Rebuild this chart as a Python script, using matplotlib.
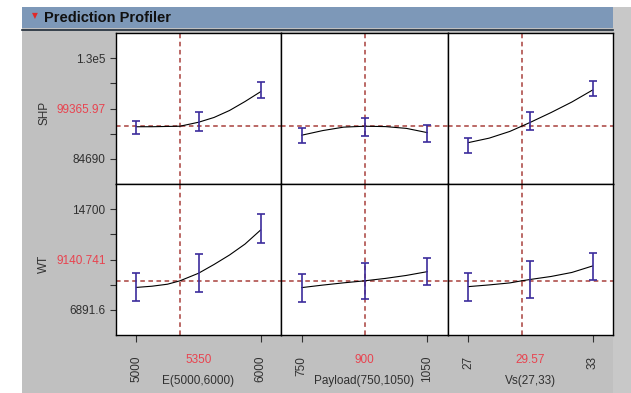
import matplotlib
matplotlib.use("Agg")
import matplotlib.pyplot as plt
from matplotlib.patches import Rectangle
from matplotlib.lines import Line2D

plt.rcParams["font.family"] = ["Liberation Sans", "DejaVu Sans"]

# ---- factors (columns) ----
factor_names = ["E(5000,6000)", "Payload(750,1050)", "Vs(27,33)"]
factor_lo = [5000, 750, 27]
factor_hi = [6000, 1050, 33]
factor_cur = [5350, 900, 29.57]
factor_lo_lbl = ["5000", "750", "27"]
factor_hi_lbl = ["6000", "1050", "33"]
factor_cur_lbl = ["5350", "900", "29.57"]

# ---- responses (rows) ----
resp_names = ["SHP", "WT"]
resp_top = [130000, 14700]
resp_bot = [84690, 6891.6]
resp_cur = [99365.97, 9140.741]
resp_top_lbl = ["1.3e5", "14700"]
resp_bot_lbl = ["84690", "6891.6"]
resp_cur_lbl = ["99365.97", "9140.741"]

# ---- profile traces ----
e_x = [5000, 5125, 5250, 5350, 5500, 5625, 5750, 5875, 6000]
shp_e = [99136, 99140, 99270, 99366, 101155, 103308, 106448, 110486, 114882]
wt_e = [8631, 8724, 8879, 9141, 9729, 10409, 11144, 11994, 13077]

pay_x = [750, 800, 850, 900, 950, 1000, 1050]
shp_pay = [95323, 97400, 98950, 99366, 99200, 98400, 96489]
wt_pay = [8616, 8810, 8985, 9141, 9330, 9560, 9853]

vs_x = [27, 28, 29, 29.57, 30, 31, 32, 33]
shp_vs = [92004, 94000, 97028, 99366, 101155, 105551, 110262, 115645]
wt_vs = [8693, 8824, 8979, 9141, 9250, 9481, 9791, 10293]

# ---- confidence bars at low / mid / high setting ----
e_bar_x = [5000, 5500, 6000]
pay_bar_x = [750, 900, 1050]
vs_bar_x = [27, 30, 33]
shp_e_lo, shp_e_hi = [95772, 97252, 111921], [101873, 105910, 119099]
shp_pay_lo, shp_pay_hi = [92004, 95144, 92453], [98733, 103084, 99944]
shp_vs_lo, shp_vs_hi = [87249, 97701, 112953], [94247, 105910, 119817]
wt_e_lo, wt_e_hi = [7611, 8260, 12048], [9729, 11221, 14290]
wt_pay_lo, wt_pay_hi = [7533, 7742, 8801], [9652, 10549, 10935]
wt_vs_lo, wt_vs_hi = [7611, 7796, 9211], [9729, 10680, 11322]

traces = [
    [(e_x, shp_e, e_bar_x, shp_e_lo, shp_e_hi),
     (pay_x, shp_pay, pay_bar_x, shp_pay_lo, shp_pay_hi),
     (vs_x, shp_vs, vs_bar_x, shp_vs_lo, shp_vs_hi)],
    [(e_x, wt_e, e_bar_x, wt_e_lo, wt_e_hi),
     (pay_x, wt_pay, pay_bar_x, wt_pay_lo, wt_pay_hi),
     (vs_x, wt_vs, vs_bar_x, wt_vs_lo, wt_vs_hi)],
]

GRAY = "#c0c0c0"
TXT = "#303030"
RED = "#e8434f"
DASH = "#a8403c"
BAR = "#3c2c9c"

W, H = 631, 393
fig = plt.figure(figsize=(W / 100, H / 100), dpi=100, facecolor="white")


def frac_rect(x, y, w, h):
    # pixel box (top-left origin) -> figure fraction
    return (x / W, (H - y - h) / H), w / W, h / H


def add_box(x, y, w, h, color):
    xy, fw, fh = frac_rect(x, y, w, h)
    fig.add_artist(Rectangle(xy, fw, fh, transform=fig.transFigure,
                             facecolor=color, edgecolor="none", zorder=0))


# window chrome
add_box(22, 28, 609, 365, GRAY)
add_box(613, 7, 18, 386, "#c8c8c8")
add_box(22, 7, 591, 21, "#7d98b8")
fig.add_artist(Line2D([22 / W, 613 / W], [(H - 29.5) / H] * 2,
                      transform=fig.transFigure, color="#1e2a38", lw=1.2))
fig.text(35 / W, (H - 16) / H, "\u25bc", color="#e02828", fontsize=5.5,
         ha="center", va="center", family="DejaVu Sans")
fig.text(44 / W, (H - 17.5) / H, "Prediction Profiler", fontsize=10.5,
         fontweight="bold", color="#101010", ha="left", va="center")

col_x = [116, 281, 448]
col_w = [165, 167, 165]
row_y = [33, 184]
row_h = 151

for r in range(2):
    span_y = resp_top[r] - resp_bot[r]
    ylo, yhi = resp_bot[r] - 0.25 * span_y, resp_top[r] + 0.25 * span_y
    yt = [resp_top[r] - i * span_y / 4 for i in range(5)]
    for c in range(3):
        xy, fw, fh = frac_rect(col_x[c], row_y[r], col_w[c], row_h)
        ax = fig.add_axes([xy[0], xy[1], fw, fh])
        ax.set_facecolor("white")
        for s in ax.spines.values():
            s.set_color("black")
            s.set_linewidth(1.0)

        span_x = factor_hi[c] - factor_lo[c]
        ax.set_xlim(factor_lo[c] - 0.165 * span_x, factor_hi[c] + 0.165 * span_x)
        ax.set_ylim(ylo, yhi)

        x, y, bx, blo, bhi = traces[r][c]
        ax.axhline(resp_cur[r], color=DASH, lw=1.1, ls=(0, (3, 2.3)), zorder=1)
        ax.axvline(factor_cur[c], color=DASH, lw=1.1, ls=(0, (3, 2.3)), zorder=1)
        ax.plot(x, y, color="black", lw=0.8, zorder=2)
        mid = [(a + b) / 2 for a, b in zip(blo, bhi)]
        err = [(b - a) / 2 for a, b in zip(blo, bhi)]
        ax.errorbar(bx, mid, yerr=err, fmt="none", ecolor=BAR, elinewidth=1.2,
                    capsize=2.8, capthick=1.2, zorder=3)

        # y axis
        if c == 0:
            ax.set_yticks(yt)
            ax.set_yticklabels([resp_top_lbl[r], "", resp_cur_lbl[r], "", resp_bot_lbl[r]])
            ax.tick_params(axis="y", direction="out", length=4, width=0.8,
                           color=TXT, labelsize=8.5, labelcolor=TXT, pad=3.5)
            ax.get_yticklabels()[2].set_color(RED)
            ax.set_ylabel(resp_names[r], fontsize=8.5, color=TXT)
            ax.yaxis.set_label_coords(-0.40, 0.47)
        else:
            ax.set_yticks([])

        # x axis
        if r == 1:
            ax.set_xticks([factor_lo[c], factor_hi[c]])
            ax.set_xticklabels([factor_lo_lbl[c], factor_hi_lbl[c]], rotation=90)
            ax.tick_params(axis="x", direction="out", length=5, width=0.8,
                           color=TXT, labelsize=8.5, labelcolor=TXT, pad=10)
            ax.text(0.5, -0.166, factor_cur_lbl[c], transform=ax.transAxes,
                    color=RED, fontsize=8.5, ha="center", va="center")
            ax.set_xlabel(factor_names[c], fontsize=8.5, color=TXT, va="center")
            ax.xaxis.set_label_coords(0.5, -0.305)
        else:
            ax.set_xticks([])

fig.savefig("out.png", dpi=100, facecolor="white")
